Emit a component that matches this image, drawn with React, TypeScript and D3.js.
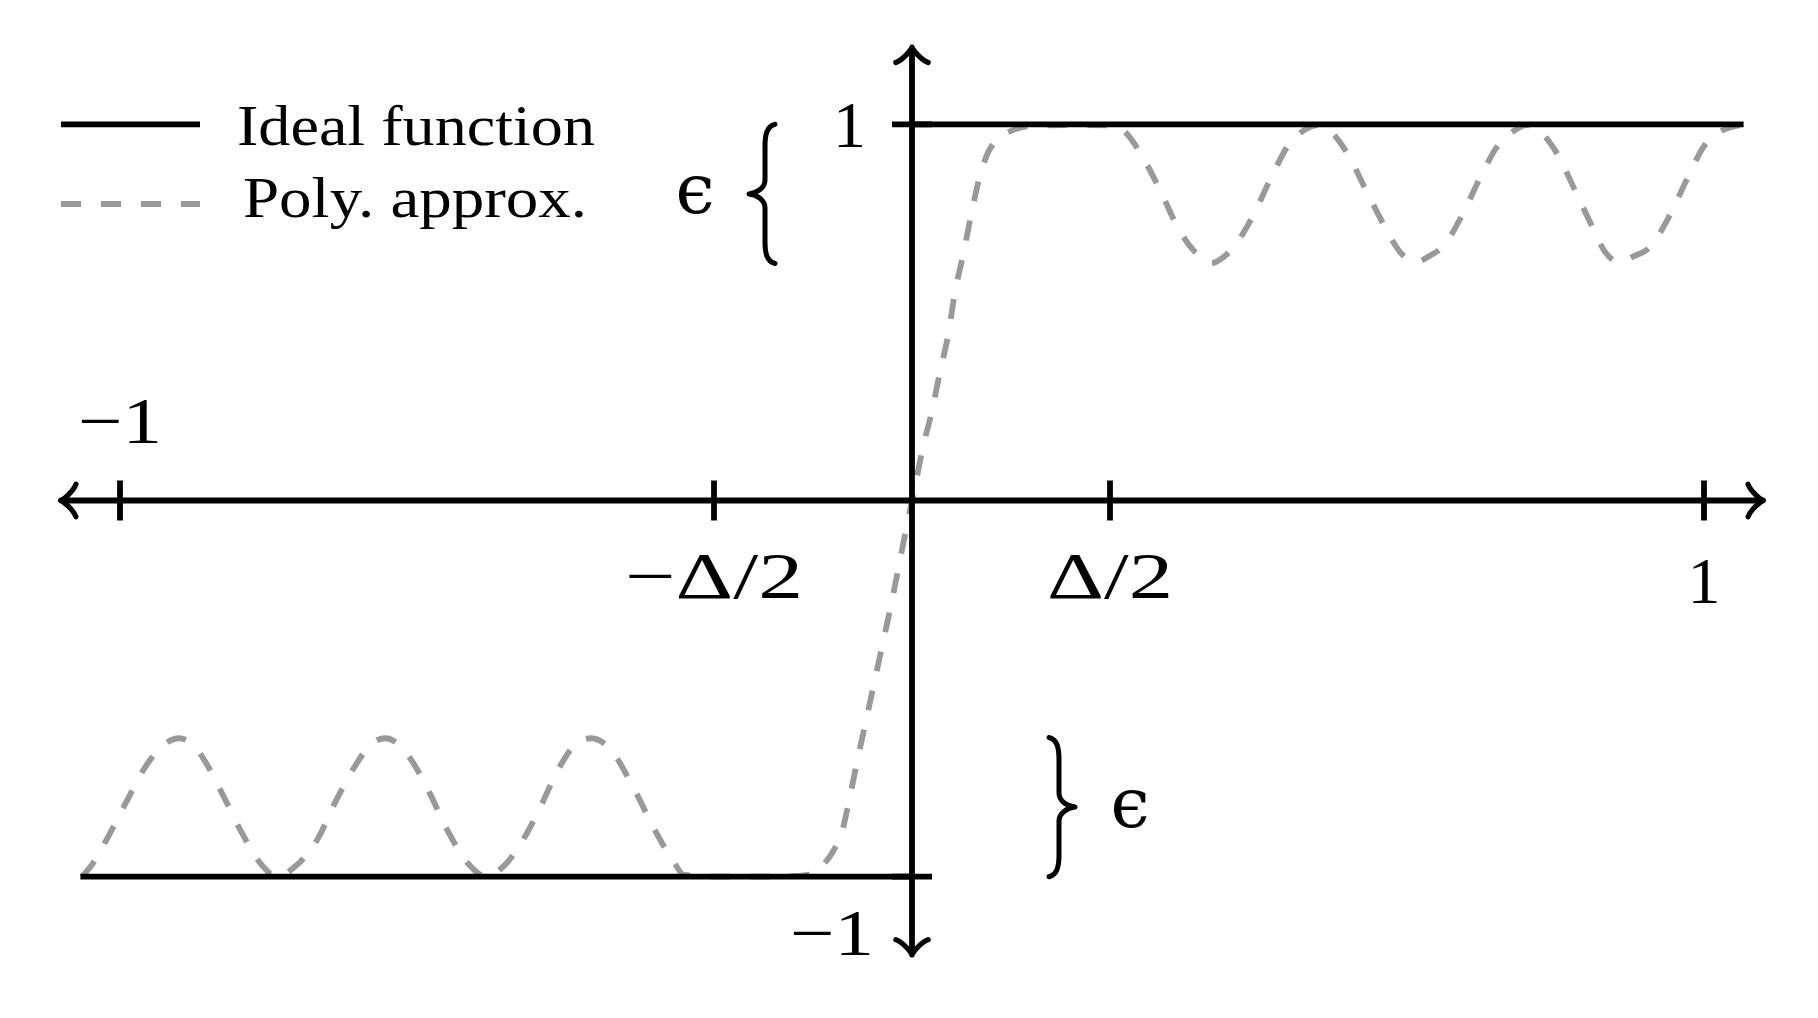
import React from 'react';
import * as d3 from 'd3';

// Step function vs. polynomial approximation, sketched like a TikZ figure.
// Values are in plot units: x in [-1, 1], y in [-1, 1].

const W = 1818;
const H = 1018;

// ideal (sign-like) function: two flat pieces
const idealFrom = [-1.05, 0];
const idealTo = [0, 1.05];
const idealLevel = [-1, 1];

// polynomial approximation
const polyX = [
  -1.048, -1.034, -1.015, -0.992, -0.968, -0.945, -0.926, -0.905, -0.895, -0.87,
  -0.848, -0.821, -0.802, -0.779, -0.75, -0.729, -0.705, -0.684, -0.665, -0.645,
  -0.634, -0.609, -0.588, -0.561, -0.537, -0.518, -0.491, -0.468, -0.447, -0.423,
  -0.405, -0.385, -0.35, -0.327, -0.301, -0.288, -0.242, -0.167, -0.125, -0.114,
  -0.099, -0.089, -0.078, -0.068, -0.057, -0.047, -0.036, -0.026, -0.016, -0.006,
  0.004, 0.014, 0.025, 0.035, 0.046, 0.054, 0.065, 0.075, 0.086, 0.096,
  0.107, 0.128, 0.149, 0.199, 0.25, 0.266, 0.292, 0.315, 0.336, 0.357,
  0.378, 0.395, 0.405, 0.431, 0.454, 0.477, 0.49, 0.513, 0.551, 0.574,
  0.597, 0.616, 0.635, 0.655, 0.669, 0.696, 0.717, 0.742, 0.758, 0.776,
  0.814, 0.837, 0.858, 0.875, 0.894, 0.912, 0.929, 0.957, 0.978, 1.001,
  1.02, 1.045,
];
const polyY = [
  -1.0, -0.964, -0.894, -0.801, -0.708, -0.65, -0.632, -0.655, -0.685, -0.783,
  -0.876, -0.969, -1.0, -0.973, -0.898, -0.805, -0.712, -0.65, -0.632, -0.655,
  -0.684, -0.778, -0.871, -0.964, -1.0, -0.977, -0.902, -0.809, -0.716, -0.645,
  -0.632, -0.652, -0.77, -0.867, -0.96, -0.995, -1.0, -1.0, -0.993, -0.973,
  -0.93, -0.885, -0.783, -0.681, -0.575, -0.477, -0.371, -0.273, -0.167, -0.061,
  0.04, 0.143, 0.236, 0.338, 0.444, 0.551, 0.657, 0.763, 0.865, 0.925,
  0.958, 0.985, 0.995, 0.998, 0.997, 0.985, 0.91, 0.817, 0.724, 0.661,
  0.631, 0.65, 0.671, 0.759, 0.861, 0.95, 0.977, 0.998, 0.918, 0.821,
  0.728, 0.661, 0.633, 0.652, 0.672, 0.764, 0.857, 0.95, 0.98, 0.998,
  0.924, 0.825, 0.732, 0.661, 0.633, 0.65, 0.668, 0.759, 0.852, 0.945,
  0.98, 0.998,
];

const xTicks = [-1, -0.25, 0.25, 1];
const xTickLabels = ['\u22121', '\u2212\u0394/2', '\u0394/2', '1'];
const yTicks = [1, -1];
const yTickLabels = ['1', '\u22121'];
const eps = 0.37;
const legendLabels = ['Ideal function', 'Poly. approx.'];

const INK = '#000';
const GRAY = '#999';
const LW = 5.8;
const SERIF = "'Liberation Serif', 'DejaVu Serif', serif";

// TikZ "to" style arrow tip, d = unit direction of travel
function arrowTip(tx: number, ty: number, dx: number, dy: number) {
  const k = 3.6;
  const nx = -dy;
  const ny = dx;
  const p = (a: number, b: number) => `${tx + a * dx + b * nx},${ty + a * dy + b * ny}`;
  const arm = (s: number) =>
    `M${p(-4.25 * k, s * 4.5 * k)} C${p(-3.5 * k, s * 2.5 * k)} ${p(-0.75 * k, s * 0.25 * k)} ${p(0, 0)}`;
  return `${arm(1)} ${arm(-1)}`;
}

// curly brace between y0 and y1, tip pointing dir (-1 left, +1 right)
function brace(tipX: number, y0: number, y1: number, dir: number) {
  const xb = tipX - dir * 16;
  const xe = xb - dir * 10;
  const ym = (y0 + y1) / 2;
  return [
    `M${xe},${y0}`,
    `C${xb - dir * 2},${y0 + 2} ${xb},${y0 + 10} ${xb},${y0 + 22}`,
    `L${xb},${ym - 14}`,
    `C${xb},${ym - 6} ${tipX - dir * 8},${ym - 1} ${tipX},${ym}`,
    `C${tipX - dir * 8},${ym + 1} ${xb},${ym + 6} ${xb},${ym + 14}`,
    `L${xb},${y1 - 22}`,
    `C${xb},${y1 - 10} ${xb - dir * 2},${y1 - 2} ${xe},${y1}`,
  ].join(' ');
}

export default function App() {
  const x = d3.scaleLinear().domain([-1, 1]).range([120, 1704]);
  const y = d3.scaleLinear().domain([-1, 1]).range([876.7, 124.3]);

  const polyLine = d3
    .line<number>()
    .x((_, i) => x(polyX[i]))
    .y((v) => y(v))
    .curve(d3.curveMonotoneX);

  const x0 = x(0);
  const y0 = y(0);
  const xAxisL = x(-1.075);
  const xAxisR = x(1.075);
  const yAxisT = y(1.205);
  const yAxisB = y(-1.208);

  return (
    <svg
      width={W}
      height={H}
      viewBox={`0 0 ${W} ${H}`}
      style={{ position: 'absolute', left: 0, top: 0, background: '#fff' }}
      fontFamily={SERIF}
    >
      <rect width={W} height={H} fill="#fff" />

      {/* polynomial approximation */}
      <path
        d={polyLine(polyY) ?? ''}
        fill="none"
        stroke={GRAY}
        strokeWidth={LW}
        strokeDasharray="20 20"
      />

      {/* ideal function */}
      {idealLevel.map((lv, i) => (
        <line
          key={`ideal-${i}`}
          x1={x(idealFrom[i])}
          x2={x(idealTo[i])}
          y1={y(lv)}
          y2={y(lv)}
          stroke={INK}
          strokeWidth={LW}
        />
      ))}

      {/* axes */}
      <line x1={xAxisL} x2={xAxisR} y1={y0} y2={y0} stroke={INK} strokeWidth={LW} />
      <line x1={x0} x2={x0} y1={yAxisT} y2={yAxisB} stroke={INK} strokeWidth={LW} />
      <g fill="none" stroke={INK} strokeWidth={LW - 0.6} strokeLinecap="round" strokeLinejoin="round">
        <path d={arrowTip(xAxisL, y0, -1, 0)} />
        <path d={arrowTip(xAxisR, y0, 1, 0)} />
        <path d={arrowTip(x0, yAxisT, 0, -1)} />
        <path d={arrowTip(x0, yAxisB, 0, 1)} />
      </g>

      {/* x ticks */}
      {xTicks.map((v, i) => {
        const above = v === -1;
        const lbl = xTickLabels[i];
        const len = lbl.length === 1 ? undefined : lbl.length === 2 ? 84 : lbl.length === 3 ? 126 : 178;
        return (
          <g key={`xt-${i}`}>
            <line x1={x(v)} x2={x(v)} y1={y0 - 20} y2={y0 + 20} stroke={INK} strokeWidth={LW} />
            <text
              x={x(v)}
              y={above ? y0 - 57.5 : v === 1 ? y0 + 102 : y0 + 97.5}
              fontSize={66}
              textAnchor="middle"
              textLength={len}
              lengthAdjust="spacingAndGlyphs"
            >
              {lbl}
            </text>
          </g>
        );
      })}

      {/* y ticks */}
      {yTicks.map((v, i) => (
        <g key={`yt-${i}`}>
          <line x1={x0 - 20} x2={x0 + 20} y1={y(v)} y2={y(v)} stroke={INK} strokeWidth={LW} />
          <text
            x={v > 0 ? x0 - 46 : x0 - 38}
            y={v > 0 ? y(v) + 22.4 : y(v) + 78.3}
            fontSize={66}
            textAnchor="end"
            textLength={v > 0 ? undefined : 84}
            lengthAdjust="spacingAndGlyphs"
          >
            {yTickLabels[i]}
          </text>
        </g>
      ))}

      {/* epsilon braces */}
      <g fill="none" stroke={INK} strokeWidth={5} strokeLinecap="round" strokeLinejoin="round">
        <path d={brace(749, y(1), y(1 - eps), -1)} />
        <path d={brace(1075, y(-1 + eps), y(-1), 1)} />
      </g>
      <text x={695} y={213} fontSize={70} textAnchor="middle" fontFamily="'DejaVu Serif', serif">
        {'\u03F5'}
      </text>
      <text x={1130} y={826.5} fontSize={70} textAnchor="middle" fontFamily="'DejaVu Serif', serif">
        {'\u03F5'}
      </text>

      {/* legend */}
      <g>
        <line x1={61} x2={200} y1={124.3} y2={124.3} stroke={INK} strokeWidth={LW} />
        <line x1={61} x2={200} y1={204} y2={204} stroke={GRAY} strokeWidth={LW} strokeDasharray="20 20" />
        <text x={237} y={145} fontSize={57} textLength={358} lengthAdjust="spacingAndGlyphs">
          {legendLabels[0]}
        </text>
        <text x={243} y={216.7} fontSize={57} textLength={344} lengthAdjust="spacingAndGlyphs">
          {legendLabels[1]}
        </text>
      </g>
    </svg>
  );
}
